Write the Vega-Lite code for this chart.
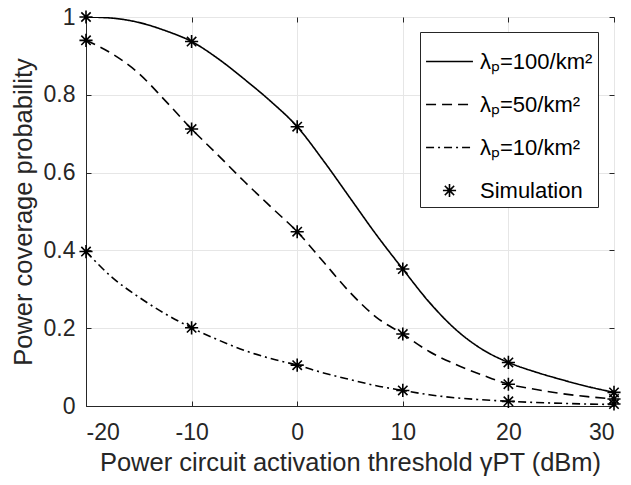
{
  "$schema": "https://vega.github.io/schema/vega-lite/v6.json",
  "width": 528,
  "height": 389,
  "autosize": {"type": "none"},
  "padding": {"left": 86, "top": 17, "right": 17, "bottom": 79},
  "background": "white",
  "config": {
    "font": "Liberation Sans",
    "view": {"stroke": "#262626", "strokeWidth": 1},
    "axis": {
      "domainColor": "#262626",
      "tickColor": "#262626",
      "labelColor": "#262626",
      "titleColor": "#262626",
      "gridColor": "#e6e6e6",
      "gridOpacity": 1,
      "labelFont": "Liberation Sans",
      "titleFont": "Liberation Sans",
      "labelFontSize": 23,
      "titleFontSize": 25.5,
      "titleFontWeight": "normal",
      "tickSize": -5
    },
    "legend": {
      "labelFont": "Liberation Sans",
      "labelFontSize": 22,
      "labelColor": "#000000"
    }
  },
  "datasets": {
    "curves": [
      {"x": -20, "p": 1.0, "s": "λₚ=100/km²"},
      {"x": -17.5, "p": 0.997, "s": "λₚ=100/km²"},
      {"x": -15, "p": 0.986, "s": "λₚ=100/km²"},
      {"x": -12.5, "p": 0.965, "s": "λₚ=100/km²"},
      {"x": -10, "p": 0.937, "s": "λₚ=100/km²"},
      {"x": -7.5, "p": 0.893, "s": "λₚ=100/km²"},
      {"x": -5, "p": 0.84, "s": "λₚ=100/km²"},
      {"x": -2.5, "p": 0.783, "s": "λₚ=100/km²"},
      {"x": 0, "p": 0.718, "s": "λₚ=100/km²"},
      {"x": 2.5, "p": 0.63, "s": "λₚ=100/km²"},
      {"x": 5, "p": 0.535, "s": "λₚ=100/km²"},
      {"x": 7.5, "p": 0.44, "s": "λₚ=100/km²"},
      {"x": 10, "p": 0.352, "s": "λₚ=100/km²"},
      {"x": 12.5, "p": 0.267, "s": "λₚ=100/km²"},
      {"x": 15, "p": 0.197, "s": "λₚ=100/km²"},
      {"x": 17.5, "p": 0.146, "s": "λₚ=100/km²"},
      {"x": 20, "p": 0.112, "s": "λₚ=100/km²"},
      {"x": 22.5, "p": 0.088, "s": "λₚ=100/km²"},
      {"x": 25, "p": 0.068, "s": "λₚ=100/km²"},
      {"x": 27.5, "p": 0.05, "s": "λₚ=100/km²"},
      {"x": 30, "p": 0.035, "s": "λₚ=100/km²"},
      {"x": -20, "p": 0.94, "s": "λₚ=50/km²"},
      {"x": -17.5, "p": 0.905, "s": "λₚ=50/km²"},
      {"x": -15, "p": 0.855, "s": "λₚ=50/km²"},
      {"x": -12.5, "p": 0.785, "s": "λₚ=50/km²"},
      {"x": -10, "p": 0.712, "s": "λₚ=50/km²"},
      {"x": -7.5, "p": 0.645, "s": "λₚ=50/km²"},
      {"x": -5, "p": 0.577, "s": "λₚ=50/km²"},
      {"x": -2.5, "p": 0.512, "s": "λₚ=50/km²"},
      {"x": 0, "p": 0.448, "s": "λₚ=50/km²"},
      {"x": 2.5, "p": 0.37, "s": "λₚ=50/km²"},
      {"x": 5, "p": 0.292, "s": "λₚ=50/km²"},
      {"x": 7.5, "p": 0.228, "s": "λₚ=50/km²"},
      {"x": 10, "p": 0.185, "s": "λₚ=50/km²"},
      {"x": 12.5, "p": 0.14, "s": "λₚ=50/km²"},
      {"x": 15, "p": 0.107, "s": "λₚ=50/km²"},
      {"x": 17.5, "p": 0.08, "s": "λₚ=50/km²"},
      {"x": 20, "p": 0.056, "s": "λₚ=50/km²"},
      {"x": 22.5, "p": 0.043, "s": "λₚ=50/km²"},
      {"x": 25, "p": 0.032, "s": "λₚ=50/km²"},
      {"x": 27.5, "p": 0.024, "s": "λₚ=50/km²"},
      {"x": 30, "p": 0.018, "s": "λₚ=50/km²"},
      {"x": -20, "p": 0.397, "s": "λₚ=10/km²"},
      {"x": -17.5, "p": 0.33, "s": "λₚ=10/km²"},
      {"x": -15, "p": 0.28, "s": "λₚ=10/km²"},
      {"x": -12.5, "p": 0.237, "s": "λₚ=10/km²"},
      {"x": -10, "p": 0.201, "s": "λₚ=10/km²"},
      {"x": -7.5, "p": 0.17, "s": "λₚ=10/km²"},
      {"x": -5, "p": 0.143, "s": "λₚ=10/km²"},
      {"x": -2.5, "p": 0.122, "s": "λₚ=10/km²"},
      {"x": 0, "p": 0.105, "s": "λₚ=10/km²"},
      {"x": 2.5, "p": 0.085, "s": "λₚ=10/km²"},
      {"x": 5, "p": 0.068, "s": "λₚ=10/km²"},
      {"x": 7.5, "p": 0.052, "s": "λₚ=10/km²"},
      {"x": 10, "p": 0.04, "s": "λₚ=10/km²"},
      {"x": 12.5, "p": 0.029, "s": "λₚ=10/km²"},
      {"x": 15, "p": 0.021, "s": "λₚ=10/km²"},
      {"x": 17.5, "p": 0.016, "s": "λₚ=10/km²"},
      {"x": 20, "p": 0.012, "s": "λₚ=10/km²"},
      {"x": 22.5, "p": 0.009, "s": "λₚ=10/km²"},
      {"x": 25, "p": 0.007, "s": "λₚ=10/km²"},
      {"x": 27.5, "p": 0.005, "s": "λₚ=10/km²"},
      {"x": 30, "p": 0.004, "s": "λₚ=10/km²"}
    ],
    "sim": [
      {"x": -20, "p": 1.0, "s": "Simulation"},
      {"x": -10, "p": 0.937, "s": "Simulation"},
      {"x": 0, "p": 0.718, "s": "Simulation"},
      {"x": 10, "p": 0.352, "s": "Simulation"},
      {"x": 20, "p": 0.112, "s": "Simulation"},
      {"x": 30, "p": 0.035, "s": "Simulation"},
      {"x": -20, "p": 0.94, "s": "Simulation"},
      {"x": -10, "p": 0.712, "s": "Simulation"},
      {"x": 0, "p": 0.448, "s": "Simulation"},
      {"x": 10, "p": 0.185, "s": "Simulation"},
      {"x": 20, "p": 0.056, "s": "Simulation"},
      {"x": 30, "p": 0.018, "s": "Simulation"},
      {"x": -20, "p": 0.397, "s": "Simulation"},
      {"x": -10, "p": 0.201, "s": "Simulation"},
      {"x": 0, "p": 0.105, "s": "Simulation"},
      {"x": 10, "p": 0.04, "s": "Simulation"},
      {"x": 20, "p": 0.012, "s": "Simulation"},
      {"x": 30, "p": 0.005, "s": "Simulation"}
    ]
  },
  "layer": [
    {
      "data": {"name": "curves"},
      "mark": {"type": "line", "color": "black", "strokeWidth": 1.6, "interpolate": "monotone", "clip": true},
      "encoding": {
        "x": {
          "field": "x", "type": "quantitative",
          "scale": {"domain": [-20, 30], "nice": false},
          "axis": {"values": [-20, -10, 0, 10, 20, 30], "labelExpr": "'' + datum.value", "title": "Power circuit activation threshold γPT (dBm)", "labelPadding": 20, "titlePadding": 6}
        },
        "y": {
          "field": "p", "type": "quantitative",
          "scale": {"domain": [0, 1], "nice": false},
          "axis": {"values": [0, 0.2, 0.4, 0.6, 0.8, 1], "format": "~g", "title": "Power coverage probability", "labelPadding": 16, "titlePadding": 7}
        },
        "strokeDash": {
          "field": "s", "type": "nominal",
          "scale": {
            "domain": ["λₚ=100/km²", "λₚ=50/km²", "λₚ=10/km²", "Simulation"],
            "range": [[1, 0], [10, 6], [8, 4, 2, 4], [1, 0]]
          },
          "legend": {
            "title": null, "orient": "none", "legendX": 334, "legendY": 15,
            "strokeColor": "#262626", "fillColor": "white", "padding": 5,
            "symbolSize": 2200, "symbolStrokeColor": "black", "symbolStrokeWidth": 1.6,
            "symbolFillColor": "transparent", "labelOffset": 6, "rowPadding": 7,
            "labelExpr": "datum.label + '\u00a0\u00a0'"
          }
        }
      }
    },
    {
      "data": {"name": "sim"},
      "mark": {"type": "point", "color": "black", "strokeWidth": 1.6, "size": 2200, "filled": false, "opacity": 1},
      "encoding": {
        "x": {"field": "x", "type": "quantitative", "axis": {"orient": "top", "values": [-20, -10, 0, 10, 20, 30], "labels": false, "title": null, "grid": false, "domain": false}},
        "y": {"field": "p", "type": "quantitative", "axis": {"orient": "right", "values": [0, 0.2, 0.4, 0.6, 0.8, 1], "labels": false, "title": null, "grid": false, "domain": false}},
        "shape": {
          "field": "s", "type": "nominal",
          "scale": {
            "domain": ["λₚ=100/km²", "λₚ=50/km²", "λₚ=10/km²", "Simulation"],
            "range": ["stroke", "stroke", "stroke", "M0,-0.28L0,0.28M-0.28,0L0.28,0M-0.2,-0.2L0.2,0.2M-0.2,0.2L0.2,-0.2"]
          },
          "legend": {
            "title": null, "orient": "none", "legendX": 334, "legendY": 15,
            "strokeColor": "#262626", "fillColor": "white", "padding": 5,
            "symbolSize": 2200, "symbolStrokeColor": "black", "symbolStrokeWidth": 1.6,
            "symbolFillColor": "transparent", "labelOffset": 6, "rowPadding": 7,
            "labelExpr": "datum.label + '\u00a0\u00a0'"
          }
        }
      }
    }
  ],
  "resolve": {"axis": {"x": "independent", "y": "independent"}}
}
